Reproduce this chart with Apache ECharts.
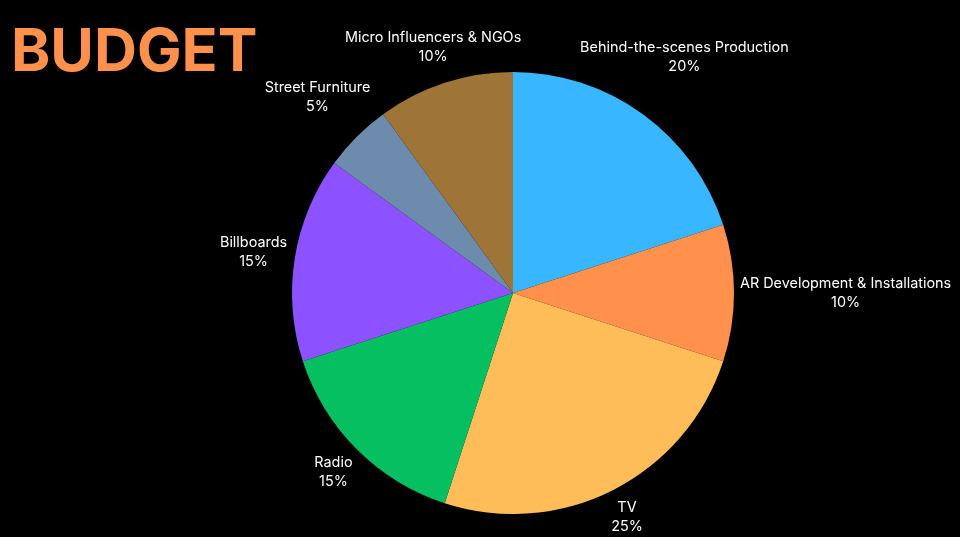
<!DOCTYPE html>
<html>
<head>
<meta charset="utf-8">
<script src="https://cdn.jsdelivr.net/npm/echarts@6/dist/echarts.min.js"></script>
<style>
html,body{margin:0;padding:0;background:#000;}
#chart{width:960px;height:537px;}
</style>
</head>
<body>
<div id="chart"></div>
<script>
var categories = ['Behind-the-scenes Production', 'AR Development & Installations', 'TV', 'Radio', 'Billboards', 'Street Furniture', 'Micro Influencers & NGOs'];
var values = [20, 10, 25, 15, 15, 5, 10];
var colors = ['#38B6FF', '#FF914D', '#FFBD59', '#06BF60', '#8C52FF', '#6D8CAD', '#9F7537'];
var titleText = 'BUDGET';

var CX = 513, CY = 293, R = 221, GAP = 6;
var total = values.reduce(function (a, b) { return a + b; }, 0);
var cum = [];
(function () { var s = 0; for (var i = 0; i < values.length; i++) { cum.push(s); s += values[i]; } })();

function nearestDist(cx, cy, hw, hh) {
  var nx = Math.max(cx - hw, Math.min(0, cx + hw));
  var ny = Math.max(cy - hh, Math.min(0, cy + hh));
  return Math.sqrt(nx * nx + ny * ny);
}

var chart = echarts.init(document.getElementById('chart'), null, { renderer: 'canvas' });
var option = {
  backgroundColor: '#000000',
  title: {
    text: titleText,
    left: 6,
    top: 18,
    textStyle: { color: '#FF914D', fontSize: 59.5, fontWeight: 'bold', fontFamily: 'Inter' }
  },
  series: [{
    type: 'pie',
    center: [CX, CY],
    radius: R,
    startAngle: 90,
    clockwise: true,
    avoidLabelOverlap: false,
    data: categories.map(function (c, i) {
      return { name: c, value: values[i], itemStyle: { color: colors[i] } };
    }),
    itemStyle: { borderWidth: 0 },
    label: {
      show: true,
      position: 'outside',
      formatter: function (p) { return p.name + '\n' + Math.round(p.value / total * 100) + '%'; },
      color: '#FFFFFF',
      fontFamily: 'Inter',
      fontSize: 14.4,
      lineHeight: 19,
      align: 'center'
    },
    labelLine: { show: false },
    labelLayout: function (params) {
      var i = params.dataIndex;
      var theta = (cum[i] + values[i] / 2) / total * 2 * Math.PI;
      var dx = Math.sin(theta), dy = -Math.cos(theta);
      var hw = params.labelRect.width / 2, hh = params.labelRect.height / 2;
      var lo = 0, hi = 1000, target = R + GAP;
      for (var k = 0; k < 60; k++) {
        var mid = (lo + hi) / 2;
        if (nearestDist(dx * mid, dy * mid, hw, hh) < target) lo = mid; else hi = mid;
      }
      var d = (lo + hi) / 2;
      return { x: CX + dx * d, y: CY + dy * d, align: 'center', verticalAlign: 'middle' };
    },
    emphasis: { disabled: true }
  }]
};
chart.setOption(option);
</script>
</body>
</html>
